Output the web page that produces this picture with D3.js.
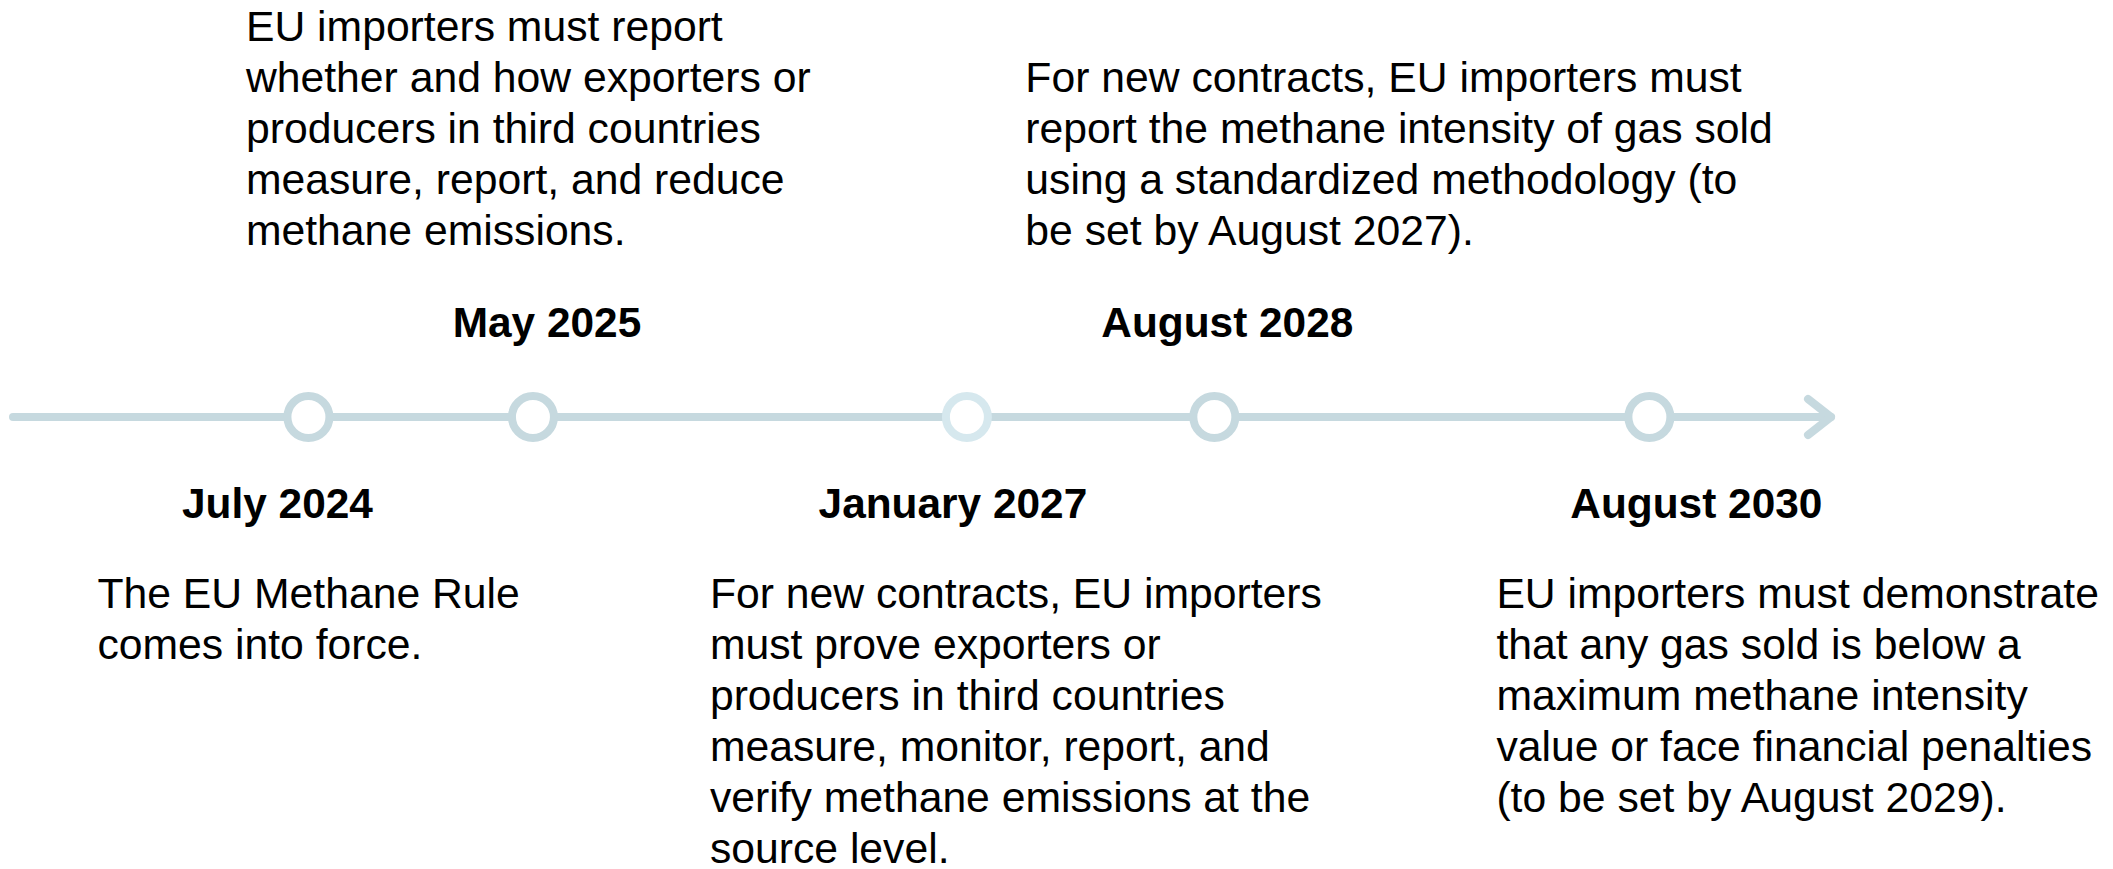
<!DOCTYPE html>
<html>
<head>
<meta charset="utf-8">
<script src="https://cdn.jsdelivr.net/npm/d3@7"></script>
<style>
  html, body { margin: 0; padding: 0; background: #ffffff; }
  svg { display: block; }
  text { font-family: "Liberation Sans", Arial, Helvetica, sans-serif; fill: #000; }
</style>
</head>
<body>
<svg id="chart" width="2113" height="869"></svg>
<script>
// ---------------- DATA ----------------
const eventDates = ["July 2024", "May 2025", "January 2027", "August 2028", "August 2030"];
// position of each milestone along the timeline arrow (0 = start, 1 = arrow tip)
const eventPositions = [0.1625, 0.286, 0.5247, 0.6608, 0.9001];
const eventSides = ["below", "above", "below", "above", "below"];
const eventDescriptions = [
  ["The EU Methane Rule", "comes into force."],
  ["EU importers must report", "whether and how exporters or", "producers in third countries",
   "measure, report, and reduce", "methane emissions."],
  ["For new contracts, EU importers", "must prove exporters or", "producers in third countries",
   "measure, monitor, report, and", "verify methane emissions at the", "source level."],
  ["For new contracts, EU importers must", "report the methane intensity of gas sold",
   "using a standardized methodology (to", "be set by August 2027)."],
  ["EU importers must demonstrate", "that any gas sold is below a", "maximum methane intensity",
   "value or face financial penalties", "(to be set by August 2029)."]
];

// ---------------- LAYOUT ----------------
const W = 2113, H = 869;
const axisY = 417;
const lineColor = "#c6d9df";
const fadedColor = "#d6e8ee";
const bodySize = 42.7;
const dateSize = 42.4;
const lineHeight = 51;
// horizontal shifts of date label centres and text-block left edges, relative to each marker
const labelShift = [-31, 14, -14, 13, 47];
const textShift = [-211, -287, -257, -189, -153];
const markerColor = [lineColor, lineColor, fadedColor, lineColor, lineColor];

const svg = d3.select("#chart");
svg.append("rect").attr("width", W).attr("height", H).attr("fill", "#fff");

const x = d3.scaleLinear().domain([0, 1]).range([13, 1831]);

// main line
svg.append("line")
  .attr("x1", x(0)).attr("x2", x(1))
  .attr("y1", axisY).attr("y2", axisY)
  .attr("stroke", lineColor).attr("stroke-width", 8)
  .attr("stroke-linecap", "round");

// arrow head
svg.append("path")
  .attr("d", d3.line()([[x(1) - 23, axisY - 18], [x(1), axisY], [x(1) - 23, axisY + 18]]))
  .attr("fill", "none")
  .attr("stroke", lineColor).attr("stroke-width", 8)
  .attr("stroke-linecap", "round").attr("stroke-linejoin", "round");

const events = eventDates.map((d, i) => ({
  date: d, pos: eventPositions[i], side: eventSides[i], lines: eventDescriptions[i], i
}));

// markers
svg.selectAll("circle.marker").data(events).join("circle")
  .attr("class", "marker")
  .attr("cx", d => x(d.pos)).attr("cy", axisY).attr("r", 21)
  .attr("fill", "#fff")
  .attr("stroke", d => markerColor[d.i]).attr("stroke-width", 8);

// date labels
svg.selectAll("text.date").data(events).join("text")
  .attr("class", "date")
  .attr("x", d => x(d.pos) + labelShift[d.i])
  .attr("y", d => d.side === "above" ? 337 : 518)
  .attr("text-anchor", "middle")
  .style("font-size", dateSize + "px")
  .style("font-weight", "bold")
  .text(d => d.date);

// descriptions
const groups = svg.selectAll("text.desc").data(events).join("text")
  .attr("class", "desc")
  .style("font-size", bodySize + "px");

groups.each(function(d) {
  const n = d.lines.length;
  const firstBaseline = d.side === "above" ? 245 - (n - 1) * lineHeight : 608;
  d3.select(this).selectAll("tspan").data(d.lines).join("tspan")
    .attr("x", x(d.pos) + textShift[d.i])
    .attr("y", (l, k) => firstBaseline + k * lineHeight)
    .text(l => l);
});
</script>
</body>
</html>
